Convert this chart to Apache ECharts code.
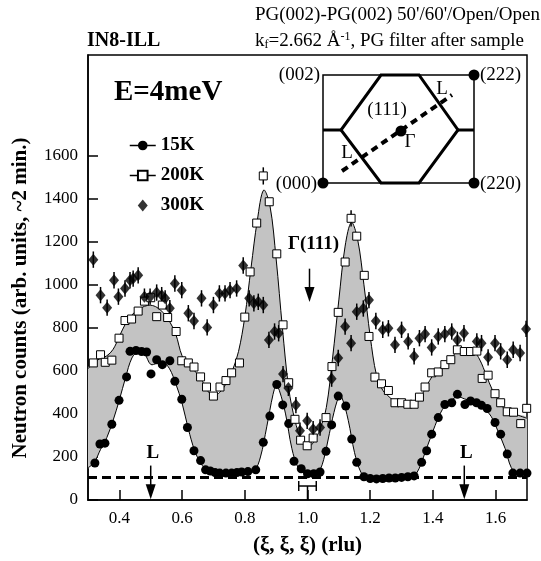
<!DOCTYPE html>
<html><head><meta charset="utf-8">
<script src="https://cdn.jsdelivr.net/npm/echarts@6/dist/echarts.min.js"></script>
<style>html,body{margin:0;padding:0;background:#fff}#c{width:541px;height:561px}</style>
</head><body><div id="c"></div>
<script>
// ---------- data ----------
const xTicks = [0.4, 0.6, 0.8, 1.0, 1.2, 1.4, 1.6];
const yTicks = [0, 200, 400, 600, 800, 1000, 1200, 1400, 1600];

const xi15 = [0.322,0.338,0.354,0.376,0.399,0.423,0.434,0.453,0.471,0.487,0.501,0.519,0.537,0.561,0.577,0.599,0.617,0.638,0.659,0.675,0.690,0.705,0.720,0.740,0.758,0.775,0.790,0.810,0.835,0.859,0.880,0.902,0.921,0.940,0.957,0.980,1.000,1.020,1.040,1.059,1.077,1.098,1.122,1.141,1.157,1.180,1.200,1.220,1.240,1.260,1.280,1.300,1.320,1.340,1.364,1.380,1.396,1.417,1.438,1.460,1.478,1.502,1.520,1.539,1.555,1.573,1.598,1.616,1.637,1.655,1.678,1.700];
const counts15 = [172,260,264,352,463,572,691,695,690,688,586,652,629,647,552,468,337,229,183,140,135,128,125,125,125,128,130,132,140,268,390,537,442,355,180,145,122,122,130,226,349,483,437,283,175,108,100,98,100,102,102,105,108,112,175,229,306,383,444,452,491,444,460,452,440,425,360,306,214,125,125,125];

const xi200 = [0.317,0.340,0.355,0.376,0.399,0.418,0.439,0.460,0.480,0.500,0.519,0.537,0.554,0.581,0.599,0.620,0.638,0.659,0.678,0.700,0.721,0.740,0.758,0.783,0.800,0.817,0.838,0.859,0.878,0.902,0.922,0.940,0.960,0.978,0.999,1.018,1.059,1.078,1.098,1.120,1.139,1.157,1.181,1.196,1.215,1.236,1.258,1.279,1.300,1.320,1.340,1.357,1.375,1.396,1.417,1.438,1.457,1.478,1.500,1.520,1.540,1.557,1.576,1.598,1.616,1.637,1.657,1.680,1.699];
const counts200 = [637,675,640,650,752,834,841,878,924,940,852,906,848,783,647,637,618,572,525,483,525,555,591,637,850,1060,1287,1506,1386,1144,814,545,375,278,252,288,383,620,872,1106,1309,1226,1044,760,571,540,509,452,452,445,445,478,525,591,595,629,652,698,690,690,692,565,580,494,452,410,408,355,426];
const err200 = [[0.859,1506,40],[1.139,1309,38]];

const xi300 = [0.317,0.340,0.361,0.383,0.397,0.418,0.434,0.444,0.460,0.480,0.498,0.519,0.535,0.546,0.561,0.577,0.599,0.620,0.638,0.662,0.680,0.700,0.719,0.737,0.753,0.774,0.795,0.814,0.829,0.843,0.859,0.877,0.895,0.908,0.922,0.939,0.963,0.976,0.999,1.018,1.040,1.077,1.098,1.120,1.139,1.157,1.178,1.196,1.218,1.240,1.258,1.279,1.300,1.321,1.340,1.357,1.375,1.396,1.417,1.438,1.460,1.478,1.499,1.540,1.555,1.576,1.598,1.616,1.637,1.656,1.678,1.697];
const counts300 = [1117,952,894,1021,945,983,1021,1029,1044,945,945,964,952,937,891,1006,975,868,832,937,802,906,960,960,975,983,1090,937,914,921,906,744,783,775,585,521,441,322,368,329,337,564,660,806,729,875,890,929,832,791,798,721,791,737,668,752,771,709,760,771,783,744,775,737,729,663,729,691,652,698,683,795];
const err300 = 38;

// fitted curves drawn through the data
const fitXi15 = [0.30,0.32,0.34,0.36,0.38,0.40,0.42,0.44,0.46,0.48,0.50,0.52,0.54,0.56,0.58,0.60,0.62,0.64,0.66,0.68,0.72,0.76,0.80,0.83,0.85,0.87,0.89,0.90,0.91,0.93,0.95,0.97,0.99,1.02,1.04,1.06,1.08,1.10,1.11,1.13,1.15,1.17,1.19,1.25,1.33,1.35,1.37,1.40,1.43,1.46,1.48,1.50,1.54,1.58,1.60,1.63,1.65,1.67,1.70];
const fit15 = [150,175,235,290,370,465,570,660,690,680,630,635,640,610,540,450,330,230,170,140,128,125,128,135,200,340,490,530,510,400,240,150,125,122,140,240,380,480,475,370,220,130,102,100,106,130,200,320,420,465,480,470,450,400,345,240,150,125,125];
const fitXi200 = [0.30,0.33,0.36,0.38,0.40,0.42,0.44,0.46,0.48,0.50,0.52,0.54,0.56,0.58,0.60,0.62,0.64,0.66,0.68,0.70,0.72,0.74,0.76,0.78,0.80,0.82,0.84,0.86,0.88,0.90,0.92,0.94,0.96,0.98,1.00,1.02,1.04,1.06,1.08,1.10,1.12,1.14,1.16,1.18,1.20,1.22,1.24,1.26,1.28,1.30,1.33,1.36,1.38,1.40,1.42,1.44,1.46,1.48,1.50,1.53,1.55,1.57,1.59,1.61,1.63,1.66,1.70];
const fit200 = [610,650,670,700,760,820,860,885,900,905,895,870,830,770,670,630,600,565,510,485,500,540,600,690,850,1080,1300,1440,1370,1120,800,520,370,280,245,270,330,430,660,930,1180,1290,1210,1000,760,580,510,480,455,445,445,480,530,580,610,640,665,690,695,690,650,580,510,460,420,400,380];

const baseline = 105;        // dashed background level
const lPoints = [0.5, 1.5];  // L points
const gammaPoint = 1.0;      // Γ(111)
const resolution = [0.972, 1.028]; // resolution bar extent

// ---------- chart ----------
const F = 'Liberation Serif';
const pair = (xs, ys) => xs.map((x, i) => [x, ys[i]]);
const d15 = pair(xi15, counts15), d200 = pair(xi200, counts200), d300 = pair(xi300, counts300);
const f15 = pair(fitXi15, fit15), f200 = pair(fitXi200, fit200);

const chart = echarts.init(document.getElementById('c'), null, {renderer: 'canvas'});
const axisCommon = {
  axisLine: {show: true, onZero: false, lineStyle: {color: '#000', width: 1.5}},
  splitLine: {show: false},
};
const SM = 0.35;
chart.setOption({
  animation: false,
  backgroundColor: '#fff',
  grid: {left: 88, right: 14, top: 55, bottom: 58, show: true, borderColor: '#000', borderWidth: 1.5, backgroundColor: 'transparent'},
  xAxis: Object.assign({
    type: 'value', min: 0.3, max: 1.7,
    axisTick: {show: true, inside: true, length: 10, customValues: xTicks, lineStyle: {color: '#000', width: 1.5}},
    axisLabel: {customValues: xTicks, formatter: v => v.toFixed(1), color: '#000', fontFamily: F, fontSize: 17, margin: 10},
    name: '(ξ, ξ, ξ) (rlu)', nameLocation: 'middle', nameGap: 35,
    nameTextStyle: {fontFamily: F, fontSize: 21, fontWeight: 'bold', color: '#000'}
  }, axisCommon),
  yAxis: Object.assign({
    type: 'value', min: 0, max: 2068,
    axisTick: {show: true, inside: true, length: 10, customValues: yTicks, lineStyle: {color: '#000', width: 1.5}},
    axisLabel: {customValues: yTicks, formatter: v => String(v), color: '#000', fontFamily: F, fontSize: 17, margin: 10}
  }, axisCommon),
  legend: {
    orient: 'vertical', left: 124, top: 131, itemGap: 11, itemWidth: 26, itemHeight: 12,
    symbolKeepAspect: true,
    data: [{name: '15K'}, {name: '200K'}, {name: '300K', icon: 'path://M5,0L10,6L5,12L0,6Z'}],
    lineStyle: {color: '#000', width: 1.5, opacity: 1},
    textStyle: {fontFamily: F, fontSize: 19, fontWeight: 'bold', color: '#000'},
    selectedMode: false
  },
  series: [
    {
      type: 'custom', name: 'fits', z: 1, silent: true, clip: true, data: [[0]],
      renderItem: (params, api) => {
        const up = f200.map(p => api.coord(p)), lo = f15.map(p => api.coord(p));
        return {type: 'group', children: [
          {type: 'polygon', shape: {points: up.concat(lo.slice().reverse()), smooth: SM}, style: {fill: '#c3c3c3', stroke: null}},
          {type: 'polyline', shape: {points: up, smooth: SM}, style: {fill: null, stroke: '#000', lineWidth: 1}},
          {type: 'polyline', shape: {points: lo, smooth: SM}, style: {fill: null, stroke: '#000', lineWidth: 1}}
        ]};
      }
    },
    {
      type: 'line', name: '15K', z: 3, data: d15, symbol: 'circle', symbolSize: 9,
      itemStyle: {color: '#000'}, lineStyle: {color: '#000', width: 0, opacity: 0},
      markLine: {silent: true, symbol: 'none', label: {show: false},
        lineStyle: {color: '#000', width: 3, type: [9, 5], opacity: 1}, data: [{yAxis: baseline}]}
    },
    {
      type: 'line', name: '200K', z: 4, data: d200, symbol: 'rect', symbolSize: 8,
      itemStyle: {color: '#fff', borderColor: '#000', borderWidth: 1}, lineStyle: {color: '#000', width: 0, opacity: 0}
    },
    {
      type: 'custom', name: 'err', z: 3, silent: true,
      data: d300.map(p => [p[0], p[1], err300]).concat(err200),
      renderItem: (params, api) => {
        const x = api.value(0), y = api.value(1), e = api.value(2);
        const a = api.coord([x, y - e]), b = api.coord([x, y + e]);
        return {type: 'line', shape: {x1: a[0], y1: a[1], x2: b[0], y2: b[1]}, style: {stroke: '#000', lineWidth: 1.5}};
      }
    },
    {
      type: 'scatter', name: '300K', z: 5, data: d300, symbol: 'diamond', symbolSize: [10, 12],
      itemStyle: {color: '#000'}
    }
  ]
});

// ---------- annotations positioned through the axes ----------
const P = (x, y) => chart.convertToPixel({gridIndex: 0}, [x, y]);
const txt = (x, y, text, size, bold, align, extra) => ({
  type: 'text', x, y, z: 20,
  style: Object.assign({text, fontFamily: F, fontSize: size, fontWeight: bold ? 'bold' : 'normal', fill: '#000',
    align: align || 'left', verticalAlign: 'middle'}, extra || {})
});
const arrow = (x, y1, y2) => ([
  {type: 'line', z: 20, shape: {x1: x, y1: y1, x2: x, y2: y2 - 12}, style: {stroke: '#000', lineWidth: 1.5}},
  {type: 'polygon', z: 20, shape: {points: [[x - 5, y2 - 15], [x + 5, y2 - 15], [x, y2]]}, style: {fill: '#000'}}
]);
const g = [];
// titles
g.push(txt(87, 41, 'IN8-ILL', 20, true));
g.push(txt(255, 15, "PG(002)-PG(002) 50'/60'/Open/Open", 19, false));
g.push({type: 'text', x: 255, y: 41, z: 20, style: {
  text: 'k{s|f}=2.662 Å{p|-1}, PG filter after sample', fontFamily: F, fontSize: 19, fill: '#000', verticalAlign: 'middle',
  rich: {s: {fontFamily: F, fontSize: 12, fill: '#000', padding: [8, 0, 0, 0]}, p: {fontFamily: F, fontSize: 12, fill: '#000', padding: [0, 0, 8, 0]}}
}});
g.push(txt(114, 93, 'E=4meV', 29, true));
// y axis title
g.push({type: 'text', x: 21, y: 298, rotation: Math.PI / 2, z: 20, style: {
  text: 'Neutron counts (arb. units, ~2 min.)', fontFamily: F, fontSize: 21, fontWeight: 'bold', fill: '#000', align: 'center', verticalAlign: 'middle'}});
// Γ(111) arrow
const gx = P(gammaPoint, 0)[0];
g.push(txt(gx + 6, P(0, 1190)[1], 'Γ(111)', 19, true, 'center'));
g.push(...arrow(gx + 2, P(0, 1075)[1], P(0, 920)[1]));
// L arrows
lPoints.forEach(l => {
  const x = P(l, 0)[0];
  g.push(txt(x + 2, P(0, 217)[1], 'L', 19, true, 'center'));
  g.push(...arrow(x, P(0, 160)[1], P(0, 3)[1]));
});
// resolution bar
const r1 = P(resolution[0], 65), r2 = P(resolution[1], 65), rc = P(gammaPoint, 0);
g.push({type: 'line', z: 20, shape: {x1: r1[0], y1: r1[1], x2: r2[0], y2: r2[1]}, style: {stroke: '#000', lineWidth: 1.5}});
g.push({type: 'line', z: 20, shape: {x1: r1[0], y1: r1[1] - 5, x2: r1[0], y2: r1[1] + 5}, style: {stroke: '#000', lineWidth: 1.5}});
g.push({type: 'line', z: 20, shape: {x1: r2[0], y1: r2[1] - 5, x2: r2[0], y2: r2[1] + 5}, style: {stroke: '#000', lineWidth: 1.5}});
g.push({type: 'line', z: 20, shape: {x1: rc[0], y1: r1[1], x2: rc[0], y2: rc[1]}, style: {stroke: '#000', lineWidth: 1.5}});
// inset (Brillouin zone sketch)
const ix0 = 323, ix1 = 474, iy0 = 75, iy1 = 183, iym = 130;
g.push({type: 'rect', z: 20, shape: {x: ix0, y: iy0, width: ix1 - ix0, height: iy1 - iy0}, style: {fill: '#fff', stroke: '#000', lineWidth: 1.5}});
g.push({type: 'polygon', z: 21, shape: {points: [[381, iy0], [419, iy0], [458, iym], [419, iy1], [381, iy1], [341, iym]]}, style: {fill: null, stroke: '#000', lineWidth: 3}});
g.push({type: 'line', z: 21, shape: {x1: ix0, y1: iym, x2: 341, y2: iym}, style: {stroke: '#000', lineWidth: 3}});
g.push({type: 'line', z: 21, shape: {x1: 458, y1: iym, x2: ix1, y2: iym}, style: {stroke: '#000', lineWidth: 3}});
g.push({type: 'line', z: 21, shape: {x1: 342, y1: 171, x2: 452, y2: 95}, style: {stroke: '#000', lineWidth: 4, lineDash: [7, 5]}});
[[ix0, iy1], [ix1, iy0], [ix1, iy1], [401, 131]].forEach(c => g.push({type: 'circle', z: 22, shape: {cx: c[0], cy: c[1], r: 5.5}, style: {fill: '#000'}}));
g.push(txt(320, iy0, '(002)', 19, false, 'right'));
g.push(txt(317, iy1 + 1, '(000)', 19, false, 'right'));
g.push(txt(480, iy0, '(222)', 19, false, 'left'));
g.push(txt(480, iy1 + 1, '(220)', 19, false, 'left'));
g.push(txt(387, 110, '(111)', 19, false, 'center'));
g.push(txt(410, 142, 'Γ', 19, false, 'center'));
g.push(txt(442, 89, 'L', 19, false, 'center'));
g.push(txt(347, 153, 'L', 19, false, 'center'));
chart.setOption({graphic: {elements: g}});
</script>
</body></html>
